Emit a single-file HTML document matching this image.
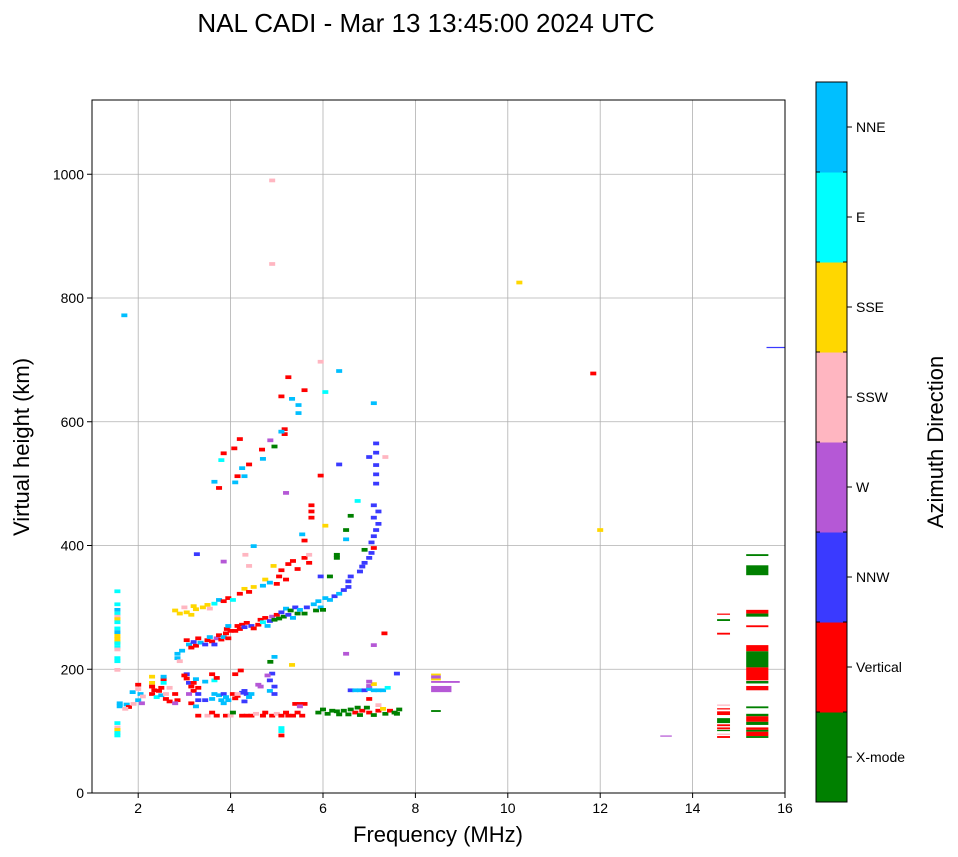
<!DOCTYPE html>
<html><head><meta charset="utf-8"><style>
body{margin:0;background:#fff;font-family:"Liberation Sans",sans-serif}
svg{display:block}
text{font-family:"Liberation Sans","DejaVu Sans",sans-serif}
</style></head><body>
<svg id="chart" width="958" height="857">
<text x="426" y="32" font-size="26" text-anchor="middle">NAL CADI - Mar 13 13:45:00 2024 UTC</text>
<g id="grid"></g>
<g id="marks"></g>
<rect x="92" y="100" width="693" height="693" fill="none" stroke="#000" stroke-width="1"/>
<g id="axes"></g>
<text x="438" y="842" font-size="22" text-anchor="middle">Frequency (MHz)</text>
<text transform="translate(29,447) rotate(-90)" font-size="22" text-anchor="middle">Virtual height (km)</text>
<g id="cbar"></g>
<text transform="translate(943,442) rotate(-90)" font-size="22" text-anchor="middle">Azimuth Direction</text>
</svg>
<script>
const dirNames=["X-mode","Vertical","NNW","W","SSW","SSE","E","NNE"];
const dirColors=["#008000","#ff0000","#3a3aff","#b558d6","#ffb6c1","#ffd700","#00ffff","#00bfff"];
const xTicks=[2,4,6,8,10,12,14,16];
const yTicks=[0,200,400,600,800,1000];
// single echoes: [freq MHz, height km, direction index]
const marks=[
[1.55,326,6],[1.55,305,6],[1.55,296,7],[1.55,290,6],[1.55,285,4],[1.55,281,5],[1.55,276,6],[1.55,266,6],[1.55,260,7],[1.55,254,5],[1.55,249,5],[1.55,244,5],[1.55,242,6],[1.55,236,6],[1.55,232,4],[1.55,218,6],[1.55,213,6],[1.55,199,4],[1.55,113,6],[1.55,106,4],[1.55,102,5],[1.55,97,6],[1.55,93,6],
[1.6,145,7],[1.6,140,7],[1.75,143,7],[1.8,139,1],[1.72,136,4],[1.88,163,7],[1.9,144,4],[2.0,175,1],[2.0,168,4],[2.05,160,7],[2.1,156,4],[2.0,150,7],[2.08,145,3],
[2.3,188,5],[2.3,178,5],[2.3,172,1],[2.35,166,1],[2.3,160,1],[2.4,155,6],[2.45,165,1],[2.5,170,1],[2.5,158,7],[2.55,178,6],[2.6,160,4],[2.6,152,1],[2.68,170,4],[2.68,148,1],[2.55,184,1],[2.55,188,7],[2.8,160,1],[2.85,150,1],[2.8,145,3],
[2.85,225,7],[2.85,218,7],[2.95,230,7],[2.9,213,4],
[3.05,192,2],[3.05,185,1],[3.1,178,2],[3.15,172,1],[3.2,165,1],[3.1,160,3],[3.2,178,1],[3.25,184,7],[3.3,170,1],[3.3,160,2],[3.3,150,2],[3.15,145,1],[3.25,140,7],[3.0,190,1],
[3.45,180,7],[3.45,150,2],[3.6,192,1],[3.65,182,6],[3.7,186,1],[3.65,160,7],[3.6,152,7],[3.75,158,7],[3.8,150,7],[3.85,145,7],[3.85,160,2],[3.9,155,7],[3.95,150,7],[4.05,160,1],[4.1,153,1],[4.15,157,1],[4.25,162,2],[4.3,165,2],[4.35,160,2],[4.45,160,7],[4.4,155,7],[4.3,148,2],[4.15,160,4],[4.1,192,1],[4.22,198,1],
[4.6,175,3],[4.65,172,3],[4.9,193,2],[4.8,190,3],[4.85,182,2],[4.95,172,2],[4.85,165,7],[4.95,160,2],[4.95,220,7],[4.86,212,0],[5.33,207,5],
[5.4,144,1],[5.5,144,1],[5.6,144,1],[5.5,140,3],
[3.3,125,1],[3.5,125,4],[3.6,130,1],[3.7,125,1],[3.9,125,1],[4.0,125,4],[4.05,130,0],[4.25,125,1],[4.35,125,1],[4.45,125,1],[4.55,128,4],[4.7,125,1],[4.75,130,1],[4.9,125,1],[5.0,128,4],[5.1,125,1],[5.2,130,1],[5.25,125,1],[5.35,125,1],[5.45,130,1],[5.55,125,1],[5.1,105,6],[5.1,100,6],[5.1,93,1],
[5.9,130,0],[6.0,135,0],[6.1,128,0],[6.2,133,0],[6.3,132,0],[6.35,127,0],[6.45,133,0],[6.55,127,0],[6.6,135,0],[6.7,130,1],[6.75,138,0],[6.8,126,0],[6.85,133,1],[6.95,138,0],[7.0,130,1],[7.1,126,0],[7.2,133,1],[7.3,136,5],[7.35,128,0],[7.45,133,1],[7.55,130,0],[7.65,135,0],[7.6,128,0],[7.2,142,4],[7.0,152,1],
[6.6,166,2],[6.7,166,7],[6.8,166,7],[6.9,166,2],[7.0,168,7],[7.1,166,7],[7.2,166,7],[7.3,166,7],[7.0,173,3],[7.1,176,5],[7.0,180,3],[7.4,170,6],[7.6,193,2],[6.5,225,3],[7.1,239,3],[7.33,258,1],
[3.05,247,1],[3.1,240,7],[3.15,235,1],[3.2,244,2],[3.25,238,1],[3.3,250,1],[3.35,243,7],[3.45,240,2],[3.5,247,1],[3.55,252,7],[3.6,245,1],[3.65,240,2],[3.7,250,3],[3.75,255,1],[3.8,248,1],[3.85,252,7],[3.9,258,1],[3.92,265,1],[3.95,250,1],[4.0,262,1],[3.95,270,7],
[4.1,262,1],[4.15,270,1],[4.2,265,1],[4.25,272,1],[4.3,268,2],[4.35,275,1],[4.45,270,2],[4.5,266,1],
[4.6,272,1],[4.65,280,1],[4.7,276,6],[4.75,283,1],[4.8,270,7],[4.85,278,2],[4.9,285,3],[4.95,280,0],[5.0,288,1],[5.05,282,0],
[5.1,292,2],[5.15,285,0],[5.2,298,7],[5.25,288,2],[5.3,295,0],[5.35,283,7],[5.4,300,2],[5.45,290,0],[5.5,296,7],[5.6,290,0],[5.65,300,2],
[5.8,305,7],[5.85,295,0],[5.9,310,7],[5.95,300,7],[6.0,296,0],[6.05,315,7],[6.15,312,7],[6.25,318,2],[6.35,322,7],[6.45,328,2],[6.55,333,2],[6.55,342,2],[6.6,350,2],[6.8,358,2],[6.85,366,2],[6.9,372,2],[7.0,380,2],[7.05,388,2],[7.1,396,1],
[7.05,405,2],[7.1,415,2],[7.15,425,2],[7.2,435,2],[7.1,445,2],[7.2,455,2],[7.1,465,2],[7.15,500,2],[7.15,515,2],[7.15,530,2],[7.15,550,2],[7.15,565,2],
[2.8,295,5],[2.9,290,5],[3.0,300,4],[3.05,292,5],[3.15,288,5],[3.2,302,5],[3.25,297,5],[3.4,300,5],[3.5,304,5],[3.55,298,4],[3.65,306,6],[3.75,312,7],[3.85,310,1],[3.95,315,1],[4.05,312,6],
[4.2,322,1],[4.3,330,5],[4.4,325,1],[4.5,333,5],[4.7,335,7],[4.75,345,5],[4.85,340,7],[5.0,338,1],[5.05,350,1],[5.1,360,1],[5.2,345,1],[5.25,370,1],[5.35,375,1],[5.45,362,1],[5.6,380,1],[5.7,385,4],[5.7,372,1],[5.95,350,2],[6.15,350,0],
[5.75,455,1],[5.75,465,1],[5.75,445,1],[5.6,408,1],[5.55,418,7],[6.05,432,5],[6.5,425,0],[6.5,410,7],[6.6,448,0],[6.75,472,6],[6.3,385,0],[6.3,380,0],[6.9,393,0],
[5.17,588,1],[5.17,580,1],[5.1,584,7],[4.86,570,3],[4.2,572,1],[4.08,557,1],[4.68,555,1],[4.7,540,7],[3.85,549,1],[4.95,560,0],[3.8,538,6],[4.4,531,1],[4.25,525,7],[4.15,512,1],[4.3,512,7],[3.65,503,7],[4.1,502,7],[3.75,493,1],[5.2,485,3],[5.95,513,1],[6.35,531,2],[7.0,543,2],[7.35,543,4],[7.1,630,7],
[5.25,672,1],[5.6,651,1],[5.33,637,7],[5.47,627,7],[5.47,614,7],[5.1,641,1],[6.05,648,6],[6.35,682,7],[5.95,697,4],
[3.27,386,2],[4.32,385,4],[3.85,374,3],[4.4,367,4],[4.93,367,5],[4.5,399,7],
[4.9,990,4],[4.9,855,4],[1.7,772,7],[10.25,825,5],[11.85,678,1],[12.0,425,5]
];
// wider blocks: [fLo, fHi, hLo, hHi, direction index]
const blocks=[
[15.16,15.64,383,386,0],[15.16,15.64,352,368,0],[15.16,15.64,290,296,1],[15.16,15.64,285,290,0],[15.16,15.64,268,271,1],[15.16,15.64,229,239,1],[15.16,15.64,203,229,0],[15.16,15.64,182,203,1],[15.16,15.64,177,181,0],[15.16,15.64,166,173,1],[15.16,15.64,137,140,0],[15.16,15.64,124,128,0],[15.16,15.64,115,124,1],[15.16,15.64,110,115,0],[15.16,15.64,102,106,1],[15.16,15.64,99,102,0],[15.16,15.64,92,99,1],[15.16,15.64,89,92,0],
[14.53,14.81,288,290,1],[14.53,14.81,278,281,0],[14.53,14.81,256,259,1],[14.53,14.81,141,143,4],[14.53,14.81,135,137,1],[14.53,14.81,126,132,1],[14.53,14.81,113,121,0],[14.53,14.81,108,111,1],[14.53,14.81,103,106,1],[14.53,14.81,100,102,0],[14.53,14.81,94,96,4],[14.53,14.81,89,92,1],
[8.34,8.55,190,193,5],[8.34,8.55,185,190,3],[8.34,8.55,182,185,5],[8.34,8.96,178,181,3],[8.34,8.78,163,173,3],[8.34,8.55,131,134,0],
[13.3,13.55,91,93,3],[15.6,16,719,721,2]
];
const NS="http://www.w3.org/2000/svg";
const X0=92,X1=785,Y0=793,Y1=100,FMIN=1,FMAX=16,HMIN=0,HMAX=1120;
function xs(f){return X0+(f-FMIN)/(FMAX-FMIN)*(X1-X0);}
function ys(h){return Y0-(h-HMIN)/(HMAX-HMIN)*(Y0-Y1);}
function mk(t,a,p){const e=document.createElementNS(NS,t);for(const k in a)e.setAttribute(k,a[k]);p.appendChild(e);return e;}
const grid=document.getElementById('grid'),axes=document.getElementById('axes'),mg=document.getElementById('marks'),cb=document.getElementById('cbar');
xTicks.forEach(t=>{const x=xs(t);
 if(t<16){const l=mk('line',{x1:x,x2:x,y1:Y1,y2:Y0,stroke:'#b0b0b0','stroke-width':0.8},grid);}
 mk('line',{x1:x,x2:x,y1:Y0,y2:Y0+5,stroke:'#000'},axes);
 const tx=mk('text',{x:x,y:Y0+20,'font-size':14,'text-anchor':'middle'},axes);tx.textContent=t;
 });
yTicks.forEach(t=>{const y=ys(t);
 const l=mk('line',{x1:X0,x2:X1,y1:y,y2:y,stroke:'#b0b0b0','stroke-width':0.8},grid);
 
 mk('line',{x1:X0-5,x2:X0,y1:y,y2:y,stroke:'#000'},axes);
 const tx=mk('text',{x:X0-8,y:y+5,'font-size':14,'text-anchor':'end'},axes);tx.textContent=t;
 });
marks.forEach(m=>{const x=xs(m[0]-0.065),w=xs(m[0]+0.065)-x,y=ys(m[1]+3),h=ys(m[1]-3)-y;
 const r=mk('rect',{x:x,y:y,width:w,height:h,fill:dirColors[m[2]]},mg);
 });
blocks.forEach(b=>{const x=xs(b[0]),w=xs(b[1])-x,y=ys(b[3]),h=ys(b[2])-y;
 const r=mk('rect',{x:x,y:y,width:w,height:h,fill:dirColors[b[4]]},mg);
 });
const CX=816,CW=31,CT=82,CB=802,seg=(CB-CT)/dirNames.length;
dirNames.forEach((n,i)=>{const y=CB-(i+1)*seg;
 const r=mk('rect',{x:CX,y:y,width:CW,height:seg+0.5,fill:dirColors[i]},cb);
 
 mk('line',{x1:CX+CW,x2:CX+CW+5,y1:y+seg/2,y2:y+seg/2,stroke:'#000'},cb);
 const tx=mk('text',{x:CX+CW+9,y:y+seg/2+5,'font-size':14},cb);tx.textContent=n;
 });
for(let i=0;i<=dirNames.length;i++){const y=CB-i*seg;mk('line',{x1:CX,x2:CX+4,y1:y,y2:y,stroke:'#000'},cb);mk('line',{x1:CX+CW-4,x2:CX+CW,y1:y,y2:y,stroke:'#000'},cb);}
mk('rect',{x:CX,y:CT,width:CW,height:CB-CT,fill:'none',stroke:'#000'},cb);
</script>
</body></html>
